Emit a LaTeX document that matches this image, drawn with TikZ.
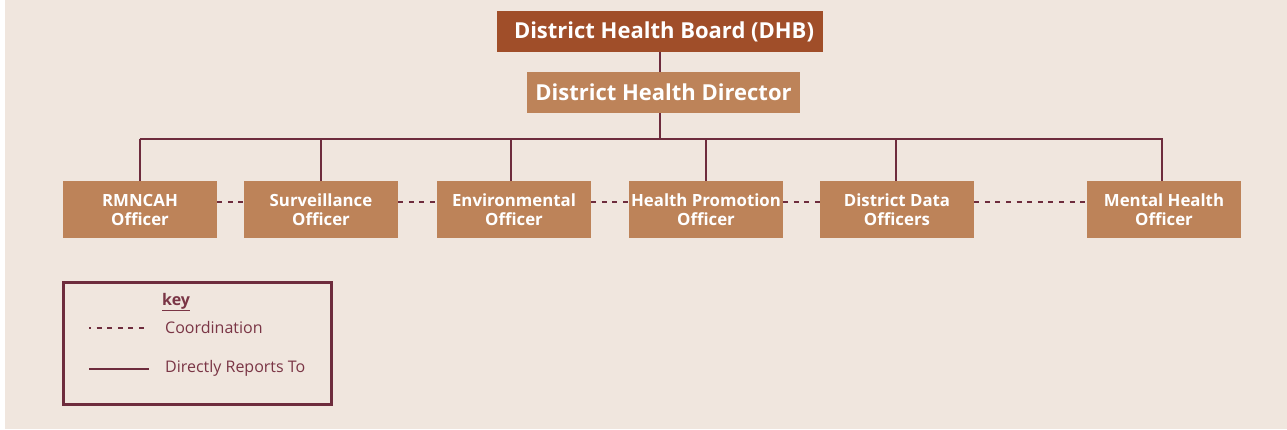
\documentclass[tikz,border=0pt]{standalone}
\usepackage{fontspec}
\setmainfont{Open Sans}
\definecolor{bg}{HTML}{F0E6DE}
\definecolor{dhbc}{HTML}{A04E29}
\definecolor{boxc}{HTML}{BD8359}
\definecolor{lnc}{HTML}{6E2C3D}
\definecolor{txtc}{HTML}{7A3545}
\begin{document}
\begin{tikzpicture}[x=1pt,y=-1pt,
  topbox/.style={fill=dhbc, text=white, minimum width=326pt, minimum height=41pt, inner sep=0pt, font=\bfseries\fontsize{22}{26}\selectfont},
  dirbox/.style={fill=boxc, text=white, minimum width=273pt, minimum height=41pt, inner sep=0pt, font=\bfseries\fontsize{22}{26}\selectfont},
  offbox/.style={fill=boxc, text=white, minimum width=154pt, minimum height=57pt, inner sep=0pt, align=center, font=\bfseries\fontsize{16.8}{19}\selectfont},
  rep/.style={draw=lnc, line width=2.5pt},
  coordl/.style={draw=lnc, line width=2.6pt, dash pattern=on 5pt off 5.6pt},
  keytxt/.style={text=txtc, anchor=west, inner sep=0pt, font=\fontsize{16}{19}\selectfont}
]
\useasboundingbox (0,0) rectangle (1287,429);
\fill[white] (0,0) rectangle (1287,429);
\fill[bg] (5,0) rectangle (1287,429);

\node[topbox] (dhb) at (660,31.5) {\hspace*{8pt}District Health Board (DHB)};
\node[dirbox] (dir) at (663.5,92.5) {District Health Director};

\node[offbox] (b1) at (140,209.5) {RMNCAH\\Officer};
\node[offbox] (b2) at (321,209.5) {Surveillance\\Officer};
\node[offbox] (b3) at (514,209.5) {Environmental\\Officer};
\node[offbox] (b4) at (706,209.5) {Health Promotion\\Officer};
\node[offbox] (b5) at (897,209.5) {District Data\\Officers};
\node[offbox] (b6) at (1164,209.5) {Mental Health\\Officer};

\coordinate (bus) at (660,139);
\draw[rep] (dhb.south -| bus) -- (dir.north -| bus);
\draw[rep] (dir.south -| bus) -- (bus);
\draw[rep] ([xshift=-0.5pt]b1.north |- bus) -- ([xshift=-1pt]b6.north |- bus);
\foreach \b/\dx in {b1/0,b2/0,b3/-3,b4/0,b5/-1,b6/-2}{
  \draw[rep] ([xshift=\dx pt]\b.north) -- ([xshift=\dx pt]\b.north |- bus);
}
\draw[coordl] ([yshift=7.5pt]b1.east) -- ([yshift=7.5pt]b2.west);
\draw[coordl] ([yshift=7.5pt]b2.east) -- ([yshift=7.5pt]b3.west);
\draw[coordl] ([yshift=7.5pt]b3.east) -- ([yshift=7.5pt]b4.west);
\draw[coordl] ([yshift=7.5pt]b4.east) -- ([yshift=7.5pt]b5.west);
\draw[coordl] ([yshift=7.5pt]b5.east) -- ([yshift=7.5pt]b6.west);

\node[draw=lnc, line width=2.4pt, minimum width=268pt, minimum height=122pt, inner sep=0pt] (key) at (197.5,343.5) {};
\node[keytxt, font=\bfseries\fontsize{16}{19}\selectfont] (keyt) at (162,302) {\underline{key}};
\coordinate (c1) at (89,328);
\coordinate (c2) at (147,328);
\draw[coordl, dash phase=3pt] (c1) -- (c2);
\node[keytxt] (ct) at (165,327) {Coordination};
\coordinate (r1) at (89,369);
\coordinate (r2) at (149,369);
\draw[rep] (r1) -- (r2);
\node[keytxt] (rt) at (165,368) {Directly Reports To};
\end{tikzpicture}
\end{document}
